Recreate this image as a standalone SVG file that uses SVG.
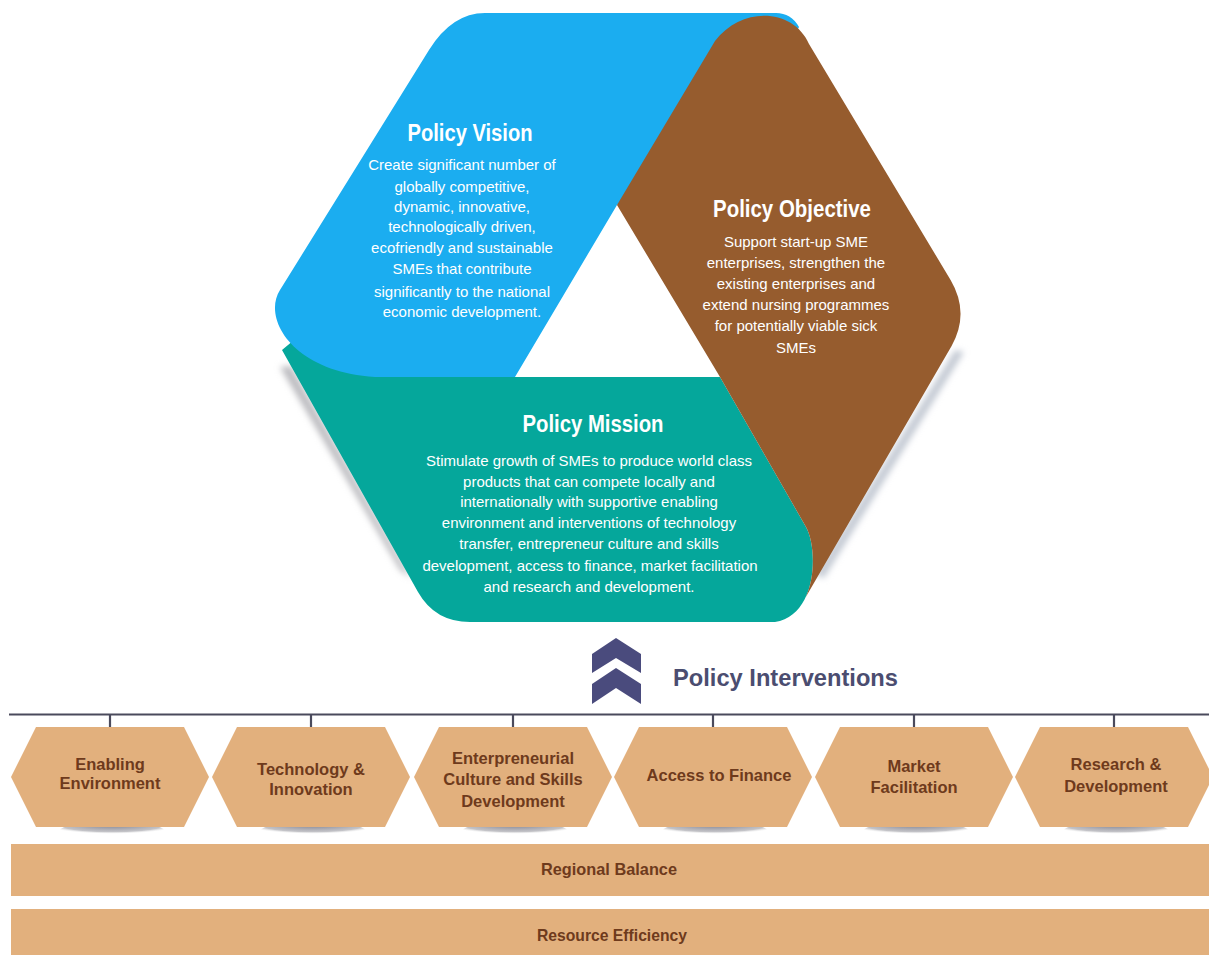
<svg xmlns="http://www.w3.org/2000/svg" width="1209" height="955" viewBox="0 0 1209 955">
<style>
.bg{fill:#ffffff}
.title{font-family:"Liberation Sans",Arial,sans-serif;font-weight:bold;font-size:23px;fill:#ffffff;text-anchor:middle}
.body{font-family:"Liberation Sans",Arial,sans-serif;font-size:15px;fill:#ffffff;text-anchor:middle}
.node{fill:#e2b07d}
.ntext{font-family:"Liberation Sans",Arial,sans-serif;font-weight:bold;font-size:16.5px;fill:#6e3a1c;text-anchor:middle}
.btext{font-family:"Liberation Sans",Arial,sans-serif;font-weight:bold;font-size:16.5px;fill:#6e3a1c;text-anchor:middle}
.conn{stroke:#4a4a5c;stroke-width:2.2;fill:none}
.chev{fill:#4a4b7d}
</style>
<defs>
<filter id="blur" x="-50%" y="-50%" width="200%" height="200%"><feGaussianBlur stdDeviation="3"/></filter>
<radialGradient id="sh" cx="0.5" cy="0.1" r="0.65">
<stop offset="0" stop-color="#8c6f90"/>
<stop offset="0.35" stop-color="#9c9ca6"/>
<stop offset="0.8" stop-color="#c4c4c8"/>
<stop offset="1" stop-color="#eeeeee" stop-opacity="0"/>
</radialGradient>
</defs>
<rect class="bg" x="0" y="0" width="1209" height="955"/>

<g id="shadows">
<polygon points="280,367 291,366 411,578 400,570" fill="#bcbcc0" filter="url(#blur)"/>
<polygon points="955,350 964,352 824,578 815,575" fill="#c4cad4" filter="url(#blur)"/>
</g>

<g id="policy-mission">
<path d="M282,350 L300,335 L500,335 L500,377 L720,377 L806,527 C818,548 818,615 775,622 L470,622 Q435,622 418,592 Z" fill="#05a79b"/>
<text class="title" x="593" y="432" textLength="141" lengthAdjust="spacingAndGlyphs">Policy Mission</text>
<text class="body" x="589" y="466">Stimulate growth of SMEs to produce world class</text>
<text class="body" x="589" y="487">products that can compete locally and</text>
<text class="body" x="589" y="507">internationally with supportive enabling</text>
<text class="body" x="589" y="528">environment and interventions of technology</text>
<text class="body" x="589" y="549">transfer, entrepreneur culture and skills</text>
<text class="body" x="590" y="571">development, access to finance, market facilitation</text>
<text class="body" x="589" y="592">and research and development.</text>
</g>

<g id="policy-vision">
<path d="M485,13 L776,13 Q791,13 799,27 L760,100 L617,205 L515,377 L375,377 C292,372 262,318 280,290 L429,50 Q452,13 485,13 Z" fill="#1badf0"/>
<text class="title" x="470" y="141" textLength="125" lengthAdjust="spacingAndGlyphs">Policy Vision</text>
<text class="body" x="462" y="170">Create significant number of</text>
<text class="body" x="462" y="192">globally competitive,</text>
<text class="body" x="462" y="212">dynamic, innovative,</text>
<text class="body" x="462" y="232">technologically driven,</text>
<text class="body" x="462" y="253">ecofriendly and sustainable</text>
<text class="body" x="462" y="274">SMEs that contribute</text>
<text class="body" x="462" y="297">significantly to the national</text>
<text class="body" x="462" y="317">economic development.</text>
</g>

<g id="policy-objective">
<path d="M617,205 L720,377 L806,527 C813.8,540.65 816.53,573.74 805.67,597.15 L951.6,346 Q970,313 950.6,280 L809,44 C793,8 742,6 715,41 Z" fill="#965c2e"/>
<text class="title" x="792" y="217" textLength="158" lengthAdjust="spacingAndGlyphs">Policy Objective</text>
<text class="body" x="796" y="247">Support start-up SME</text>
<text class="body" x="796" y="268">enterprises, strengthen the</text>
<text class="body" x="796" y="289">existing enterprises and</text>
<text class="body" x="796" y="310">extend nursing programmes</text>
<text class="body" x="796" y="331">for potentially viable sick</text>
<text class="body" x="796" y="353">SMEs</text>
</g>

<g id="policy-interventions">
<polygon class="chev" points="592,654 616,638 641,654 641,673 616,658 592,673"/>
<polygon class="chev" points="592,684 616,668 641,684 641,704 616,688 592,704"/>
<text x="673" y="686" font-family="Liberation Sans,Arial,sans-serif" font-weight="bold" font-size="24" fill="#4b4d70" textLength="225" lengthAdjust="spacingAndGlyphs">Policy Interventions</text>
</g>

<g id="connectors">
<line class="conn" x1="9" y1="714.5" x2="1209" y2="714.5"/>
<line class="conn" x1="110" y1="714" x2="110" y2="727"/>
<line class="conn" x1="311" y1="714" x2="311" y2="727"/>
<line class="conn" x1="513" y1="714" x2="513" y2="727"/>
<line class="conn" x1="713" y1="714" x2="713" y2="727"/>
<line class="conn" x1="914" y1="714" x2="914" y2="727"/>
<line class="conn" x1="1114" y1="714" x2="1114" y2="727"/>
</g>

<g id="node-shadows">
<ellipse cx="112" cy="830" rx="52" ry="7.5" fill="url(#sh)"/>
<ellipse cx="313" cy="830" rx="52" ry="7.5" fill="url(#sh)"/>
<ellipse cx="515" cy="830" rx="52" ry="7.5" fill="url(#sh)"/>
<ellipse cx="715" cy="830" rx="52" ry="7.5" fill="url(#sh)"/>
<ellipse cx="916" cy="830" rx="52" ry="7.5" fill="url(#sh)"/>
<ellipse cx="1116" cy="830" rx="52" ry="7.5" fill="url(#sh)"/>
</g>

<g id="enabling-environment">
<polygon class="node" points="11,777 36,727 184,727 209,777 184,827 36,827"/>
<text class="ntext" x="110" y="770">Enabling</text>
<text class="ntext" x="110" y="789">Environment</text>
</g>
<g id="technology-innovation">
<polygon class="node" points="212,777 237,727 385,727 410,777 385,827 237,827"/>
<text class="ntext" x="311" y="775">Technology &amp;</text>
<text class="ntext" x="311" y="795">Innovation</text>
</g>
<g id="entrepreneurial-culture">
<polygon class="node" points="414,777 439,727 587,727 612,777 587,827 439,827"/>
<text class="ntext" x="513" y="764">Enterpreneurial</text>
<text class="ntext" x="513" y="785">Culture and Skills</text>
<text class="ntext" x="513" y="807">Development</text>
</g>
<g id="access-to-finance">
<polygon class="node" points="614,777 639,727 787,727 812,777 787,827 639,827"/>
<text class="ntext" x="719" y="781">Access to Finance</text>
</g>
<g id="market-facilitation">
<polygon class="node" points="815,777 840,727 988,727 1013,777 988,827 840,827"/>
<text class="ntext" x="914" y="772">Market</text>
<text class="ntext" x="914" y="793">Facilitation</text>
</g>
<g id="research-development">
<polygon class="node" points="1015,777 1040,727 1188,727 1213,777 1188,827 1040,827"/>
<text class="ntext" x="1116" y="770">Research &amp;</text>
<text class="ntext" x="1116" y="792">Development</text>
</g>

<g id="regional-balance">
<rect class="node" x="11" y="844" width="1198" height="52"/>
<text class="btext" x="609" y="875" textLength="136" lengthAdjust="spacingAndGlyphs">Regional Balance</text>
</g>
<g id="resource-efficiency">
<rect class="node" x="11" y="909" width="1198" height="46"/>
<text class="btext" x="612" y="941" textLength="150" lengthAdjust="spacingAndGlyphs">Resource Efficiency</text>
</g>
</svg>
